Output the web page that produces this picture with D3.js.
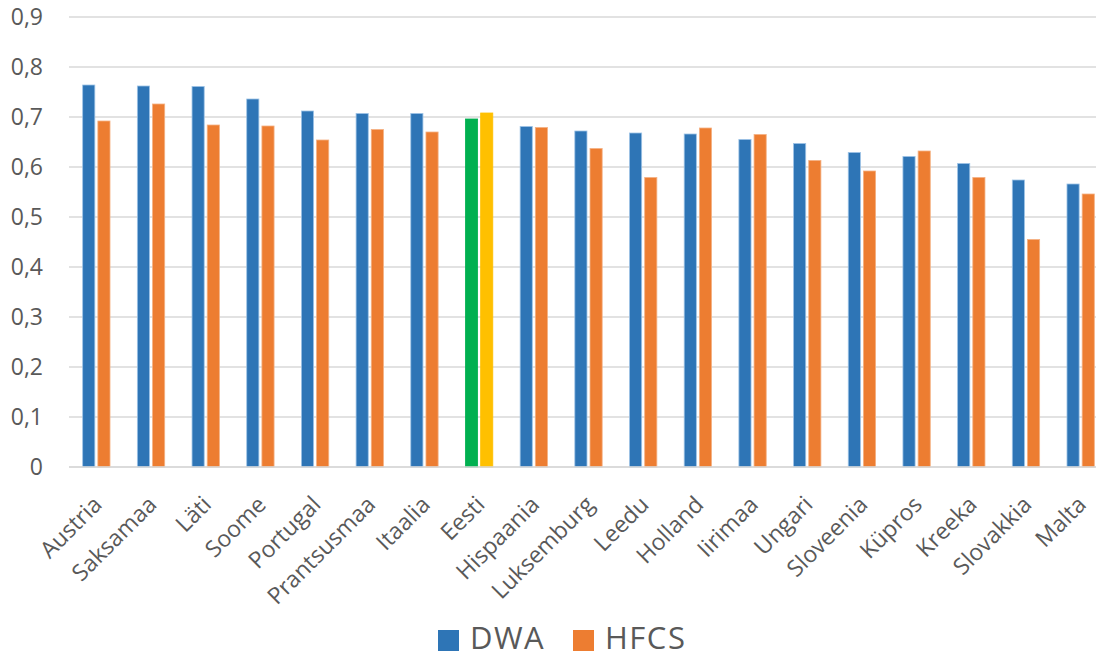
<!DOCTYPE html>
<html>
<head>
<meta charset="utf-8">
<script src="https://cdn.jsdelivr.net/npm/d3@7"></script>
<style>
  html, body { margin: 0; padding: 0; background: #fff; }
  svg { display: block; font-family: "Open Sans", "Noto Sans", sans-serif; }
</style>
</head>
<body>
<svg id="chart" width="1096" height="657"></svg>
<script>
// Countries, ordered by DWA value
const categories = ["Austria", "Saksamaa", "Läti", "Soome", "Portugal", "Prantsusmaa", "Itaalia", "Eesti",
  "Hispaania", "Luksemburg", "Leedu", "Holland", "Iirimaa", "Ungari", "Sloveenia", "Küpros", "Kreeka",
  "Slovakkia", "Malta"];
const seriesNames = ["DWA", "HFCS"];
const dwaValues  = [0.764, 0.762, 0.761, 0.736, 0.712, 0.707, 0.707, 0.696, 0.681, 0.672, 0.668, 0.666,
  0.655, 0.647, 0.629, 0.621, 0.607, 0.574, 0.566];
const hfcsValues = [0.692, 0.726, 0.684, 0.682, 0.654, 0.675, 0.670, 0.708, 0.679, 0.637, 0.579, 0.678,
  0.665, 0.613, 0.592, 0.632, 0.579, 0.455, 0.546];
const yTicks = [0, 0.1, 0.2, 0.3, 0.4, 0.5, 0.6, 0.7, 0.8, 0.9];

const seriesColors = ["#2e75b6", "#ed7d31"];
const highlight = { "Eesti": ["#00b050", "#ffc000"] };
const edgeColors = { "#2e75b6": "#9dc3e6", "#ed7d31": "#f4b183", "#00b050": "#00b050", "#ffc000": "#ffc000" };

const svg = d3.select("#chart");
const margin = { left: 69, top: 17, bottom: 467 };
const plotRight = 1108;
const textColor = "#595959";

const x = d3.scaleBand().domain(categories).range([margin.left, plotRight]).paddingInner(0).paddingOuter(0);
const xs = d3.scaleBand().domain(seriesNames).range([0, x.bandwidth()]).paddingInner(0.2).paddingOuter(0.9);
const y = d3.scaleLinear().domain([0, 0.9]).range([margin.bottom, margin.top]);

const fmt = d => d === 0 ? "0" : d3.format(".1f")(d).replace(".", ",");

// Horizontal gridlines
svg.append("g")
  .selectAll("line")
  .data(yTicks)
  .join("line")
  .attr("x1", margin.left).attr("x2", 1096)
  .attr("y1", d => y(d)).attr("y2", d => y(d))
  .attr("stroke", "#d9d9d9").attr("stroke-width", 1.5);

// Y axis labels
const yAxis = d3.axisLeft(y).tickValues(yTicks).tickSize(0).tickPadding(0).tickFormat(fmt);
svg.append("g")
  .attr("transform", "translate(43,0)")
  .call(yAxis)
  .call(g => g.select(".domain").remove())
  .call(g => g.selectAll("text")
    .attr("fill", textColor)
    .style("font-size", "23px")
    .style("font-family", "'Open Sans', sans-serif"));

// Bars
const rows = categories.map((c, i) => ({ c, vals: [dwaValues[i], hfcsValues[i]] }));
const groups = svg.append("g").selectAll("g")
  .data(rows)
  .join("g")
  .attr("transform", d => `translate(${x(d.c)},0)`);
groups.selectAll("rect")
  .data(d => d.vals.map((v, k) => ({ v, k, c: d.c })))
  .join("rect")
  .attr("x", d => xs(seriesNames[d.k]))
  .attr("width", xs.bandwidth())
  .attr("y", d => y(d.v))
  .attr("height", d => y(0) - y(d.v))
  .attr("fill", d => (highlight[d.c] || seriesColors)[d.k])
  .attr("stroke", d => edgeColors[(highlight[d.c] || seriesColors)[d.k]])
  .attr("stroke-width", 0.8);

// Baseline
svg.append("line")
  .attr("x1", margin.left).attr("x2", 1096)
  .attr("y1", y(0)).attr("y2", y(0))
  .attr("stroke", "#d9d9d9").attr("stroke-width", 1.5);

// X axis labels, rotated 45 degrees
const xAxis = d3.axisBottom(x).tickSize(0).tickPadding(0);
svg.append("g")
  .attr("transform", `translate(0,${y(0)})`)
  .call(xAxis)
  .call(g => g.select(".domain").remove())
  .call(g => g.selectAll("text")
    .attr("fill", textColor)
    .style("font-size", "23px")
    .style("font-family", "'Open Sans', sans-serif")
    .attr("text-anchor", "end")
    .attr("dy", "0")
    .attr("y", 0)
    .attr("transform", "translate(7,39) rotate(-45)"));

// Legend
const legend = svg.append("g").attr("transform", "translate(438,630)");
const legendItems = legend.selectAll("g")
  .data(seriesNames)
  .join("g")
  .attr("transform", (d, i) => `translate(${i * 135},0)`);
legendItems.append("rect")
  .attr("width", 21).attr("height", 21)
  .attr("fill", (d, i) => seriesColors[i]);
legendItems.append("text")
  .attr("x", 32).attr("y", 19)
  .attr("fill", textColor)
  .style("font-size", "31px")
  .style("letter-spacing", "1.5px")
  .text(d => d);
</script>
</body>
</html>
